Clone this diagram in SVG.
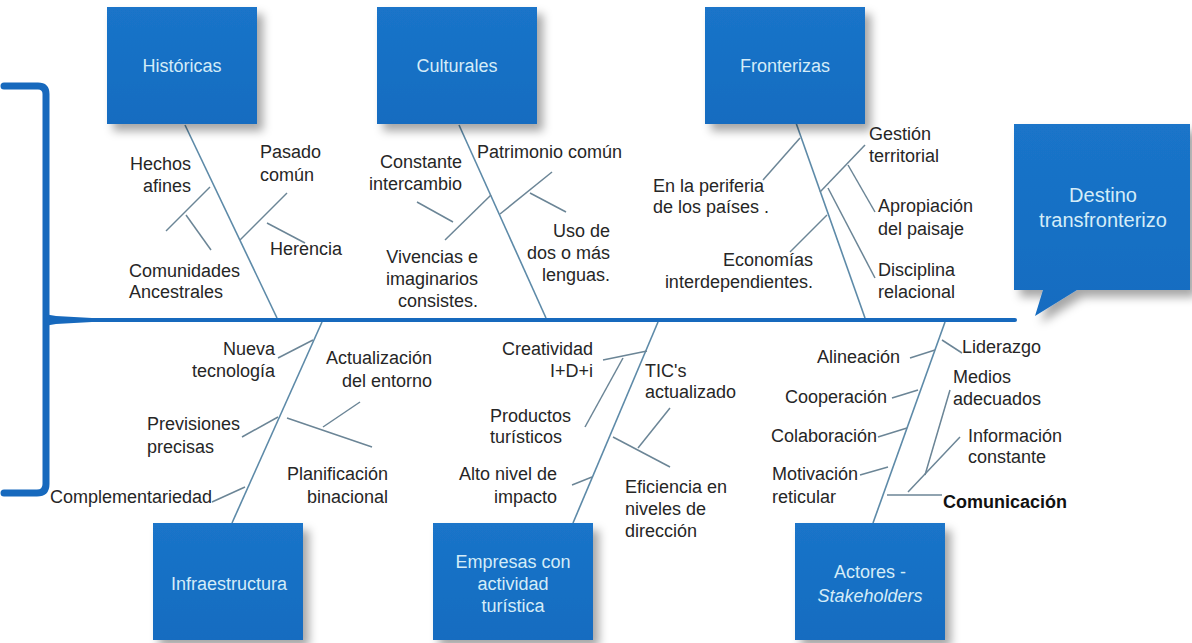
<svg xmlns="http://www.w3.org/2000/svg" width="1192" height="643" viewBox="0 0 1192 643">
<style>
.t{font-family:"Liberation Sans",Arial,sans-serif;font-size:18px;fill:#262626}
.b{font-family:"Liberation Sans",Arial,sans-serif;font-size:18px;fill:#d4ecf8;text-anchor:middle}
.e{text-anchor:end}
.m{text-anchor:middle}
.box{fill:url(#g);filter:url(#sh)}
.bone{stroke:#5d8aa8;stroke-width:1.6;fill:none}
.sub{stroke:#6b8596;stroke-width:1.5;fill:none}
.blue{stroke:#1769bd;fill:none;stroke-linecap:round;stroke-linejoin:round}
</style>
<defs>
<linearGradient id="g" x1="0" y1="0" x2="0" y2="1">
<stop offset="0" stop-color="#1a74c9"/>
<stop offset="1" stop-color="#156cc0"/>
</linearGradient>
<filter id="sh" x="-20%" y="-20%" width="150%" height="150%">
<feDropShadow dx="6" dy="7" stdDeviation="5" flood-color="#000" flood-opacity="0.35"/>
</filter>
</defs>
<rect width="1192" height="643" fill="#ffffff"/>

<g id="connectors">
<path class="blue" stroke-width="7" d="M4,86 H38 Q46,86 46,94 V484 Q46,493 37,493 H4"/>
<path class="blue" stroke-width="4" d="M46,320 H1015"/>
<path fill="#1769bd" d="M44,314 Q50,320 44,326 L56,324 L92,322 L92,318 L56,316 Z"/>
<line class="bone" x1="185" y1="125" x2="277" y2="318"/>
<line class="sub" x1="166" y1="231" x2="210" y2="187"/>
<line class="sub" x1="186" y1="215" x2="211" y2="250"/>
<line class="sub" x1="240" y1="240" x2="287" y2="193"/>
<line class="sub" x1="267" y1="223" x2="305" y2="243"/>
<line class="bone" x1="459" y1="125" x2="546" y2="318"/>
<line class="sub" x1="445" y1="240" x2="491" y2="195"/>
<line class="sub" x1="417" y1="202" x2="453" y2="222"/>
<line class="sub" x1="500" y1="214" x2="552" y2="172"/>
<line class="sub" x1="530" y1="193" x2="566" y2="212"/>
<line class="bone" x1="795" y1="120" x2="865" y2="318"/>
<line class="sub" x1="763" y1="180" x2="800" y2="138"/>
<line class="sub" x1="820" y1="192" x2="865" y2="145"/>
<line class="sub" x1="848" y1="165" x2="875" y2="212"/>
<line class="sub" x1="828" y1="188" x2="875" y2="278"/>
<line class="sub" x1="790" y1="252" x2="827" y2="215"/>
<line class="bone" x1="322" y1="322" x2="232" y2="523"/>
<line class="sub" x1="278" y1="358" x2="313" y2="340"/>
<line class="sub" x1="242" y1="437" x2="278" y2="417"/>
<line class="sub" x1="287" y1="418" x2="372" y2="447"/>
<line class="sub" x1="323" y1="427" x2="360" y2="402"/>
<line class="sub" x1="212" y1="502" x2="245" y2="487"/>
<line class="bone" x1="658" y1="322" x2="573" y2="523"/>
<line class="sub" x1="603" y1="360" x2="647" y2="351"/>
<line class="sub" x1="585" y1="427" x2="623" y2="358"/>
<line class="sub" x1="572" y1="485" x2="592" y2="477"/>
<line class="sub" x1="613" y1="437" x2="670" y2="467"/>
<line class="sub" x1="638" y1="448" x2="670" y2="408"/>
<line class="bone" x1="945" y1="322" x2="873" y2="523"/>
<line class="sub" x1="910" y1="358" x2="935" y2="350"/>
<line class="sub" x1="892" y1="398" x2="918" y2="390"/>
<line class="sub" x1="878" y1="437" x2="907" y2="428"/>
<line class="sub" x1="860" y1="475" x2="888" y2="467"/>
<line class="sub" x1="942" y1="340" x2="962" y2="353"/>
<line class="sub" x1="887" y1="495" x2="942" y2="495"/>
<line class="sub" x1="925" y1="475" x2="950" y2="390"/>
<line class="sub" x1="908" y1="492" x2="960" y2="437"/>
</g>

<g id="historicas">
<rect class="box" x="107" y="7" width="150" height="117"/>
<text class="b" x="182" y="72">Históricas</text>
</g>
<g id="culturales">
<rect class="box" x="377" y="7" width="160" height="117"/>
<text class="b" x="457" y="72">Culturales</text>
</g>
<g id="fronterizas">
<rect class="box" x="705" y="7" width="160" height="117"/>
<text class="b" x="785" y="72">Fronterizas</text>
</g>
<g id="destino">
<path class="box" d="M1014,124 H1190 V290 H1077 L1035,316 L1043,290 H1014 Z"/>
<text class="b" x="1103" y="202" style="font-size:20px">Destino</text>
<text class="b" x="1103" y="227" style="font-size:20px">transfronterizo</text>
</g>
<g id="infraestructura">
<rect class="box" x="153" y="523" width="150" height="117"/>
<text class="b" x="229" y="590">Infraestructura</text>
</g>
<g id="empresas">
<rect class="box" x="433" y="523" width="160" height="117"/>
<text class="b" x="513" y="568">Empresas con</text>
<text class="b" x="513" y="590">actividad</text>
<text class="b" x="513" y="612">turística</text>
</g>
<g id="actores">
<rect class="box" x="795" y="523" width="150" height="117"/>
<text class="b" x="870" y="578">Actores -</text>
<text class="b" x="870" y="602" font-style="italic">Stakeholders</text>
</g>

<g id="labels-historicas">
<text class="t e" x="191" y="170">Hechos</text>
<text class="t e" x="191" y="192">afines</text>
<text class="t" x="260" y="158">Pasado</text>
<text class="t" x="260" y="181">común</text>
<text class="t" x="270" y="255">Herencia</text>
<text class="t" x="129" y="277">Comunidades</text>
<text class="t" x="129" y="298">Ancestrales</text>
</g>
<g id="labels-culturales">
<text class="t e" x="462" y="168">Constante</text>
<text class="t e" x="462" y="190">intercambio</text>
<text class="t" x="477" y="158">Patrimonio común</text>
<text class="t e" x="610" y="237">Uso de</text>
<text class="t e" x="610" y="259">dos o más</text>
<text class="t e" x="610" y="281">lenguas.</text>
<text class="t e" x="478" y="263">Vivencias e</text>
<text class="t e" x="478" y="285">imaginarios</text>
<text class="t e" x="478" y="307">consistes.</text>
</g>
<g id="labels-fronterizas">
<text class="t" x="653" y="192">En la periferia</text>
<text class="t" x="653" y="213">de los países .</text>
<text class="t e" x="813" y="266">Economías</text>
<text class="t e" x="813" y="288">interdependientes.</text>
<text class="t" x="869" y="140">Gestión</text>
<text class="t" x="869" y="162">territorial</text>
<text class="t" x="878" y="212">Apropiación</text>
<text class="t" x="878" y="235">del paisaje</text>
<text class="t" x="878" y="276">Disciplina</text>
<text class="t" x="878" y="298">relacional</text>
</g>
<g id="labels-infraestructura">
<text class="t e" x="275" y="355">Nueva</text>
<text class="t e" x="275" y="377">tecnología</text>
<text class="t e" x="432" y="364">Actualización</text>
<text class="t e" x="432" y="387">del entorno</text>
<text class="t" x="147" y="430">Previsiones</text>
<text class="t" x="147" y="453">precisas</text>
<text class="t e" x="388" y="480">Planificación</text>
<text class="t e" x="388" y="503">binacional</text>
<text class="t e" x="212" y="503">Complementariedad</text>
</g>
<g id="labels-empresas">
<text class="t e" x="593" y="355">Creatividad</text>
<text class="t e" x="593" y="377">I+D+i</text>
<text class="t" x="645" y="377">TIC's</text>
<text class="t" x="645" y="398">actualizado</text>
<text class="t" x="490" y="422">Productos</text>
<text class="t" x="490" y="443">turísticos</text>
<text class="t e" x="557" y="480">Alto nivel de</text>
<text class="t e" x="557" y="503">impacto</text>
<text class="t" x="625" y="493">Eficiencia en</text>
<text class="t" x="625" y="515">niveles de</text>
<text class="t" x="625" y="537">dirección</text>
</g>
<g id="labels-actores">
<text class="t e" x="900" y="363">Alineación</text>
<text class="t e" x="887" y="403">Cooperación</text>
<text class="t e" x="877" y="442">Colaboración</text>
<text class="t" x="772" y="480">Motivación</text>
<text class="t" x="772" y="503">reticular</text>
<text class="t" x="962" y="353">Liderazgo</text>
<text class="t" x="953" y="383">Medios</text>
<text class="t" x="953" y="405">adecuados</text>
<text class="t" x="968" y="442">Información</text>
<text class="t" x="968" y="463">constante</text>
<text class="t" x="943" y="508" font-weight="bold" style="fill:#111">Comunicación</text>
</g>
</svg>
